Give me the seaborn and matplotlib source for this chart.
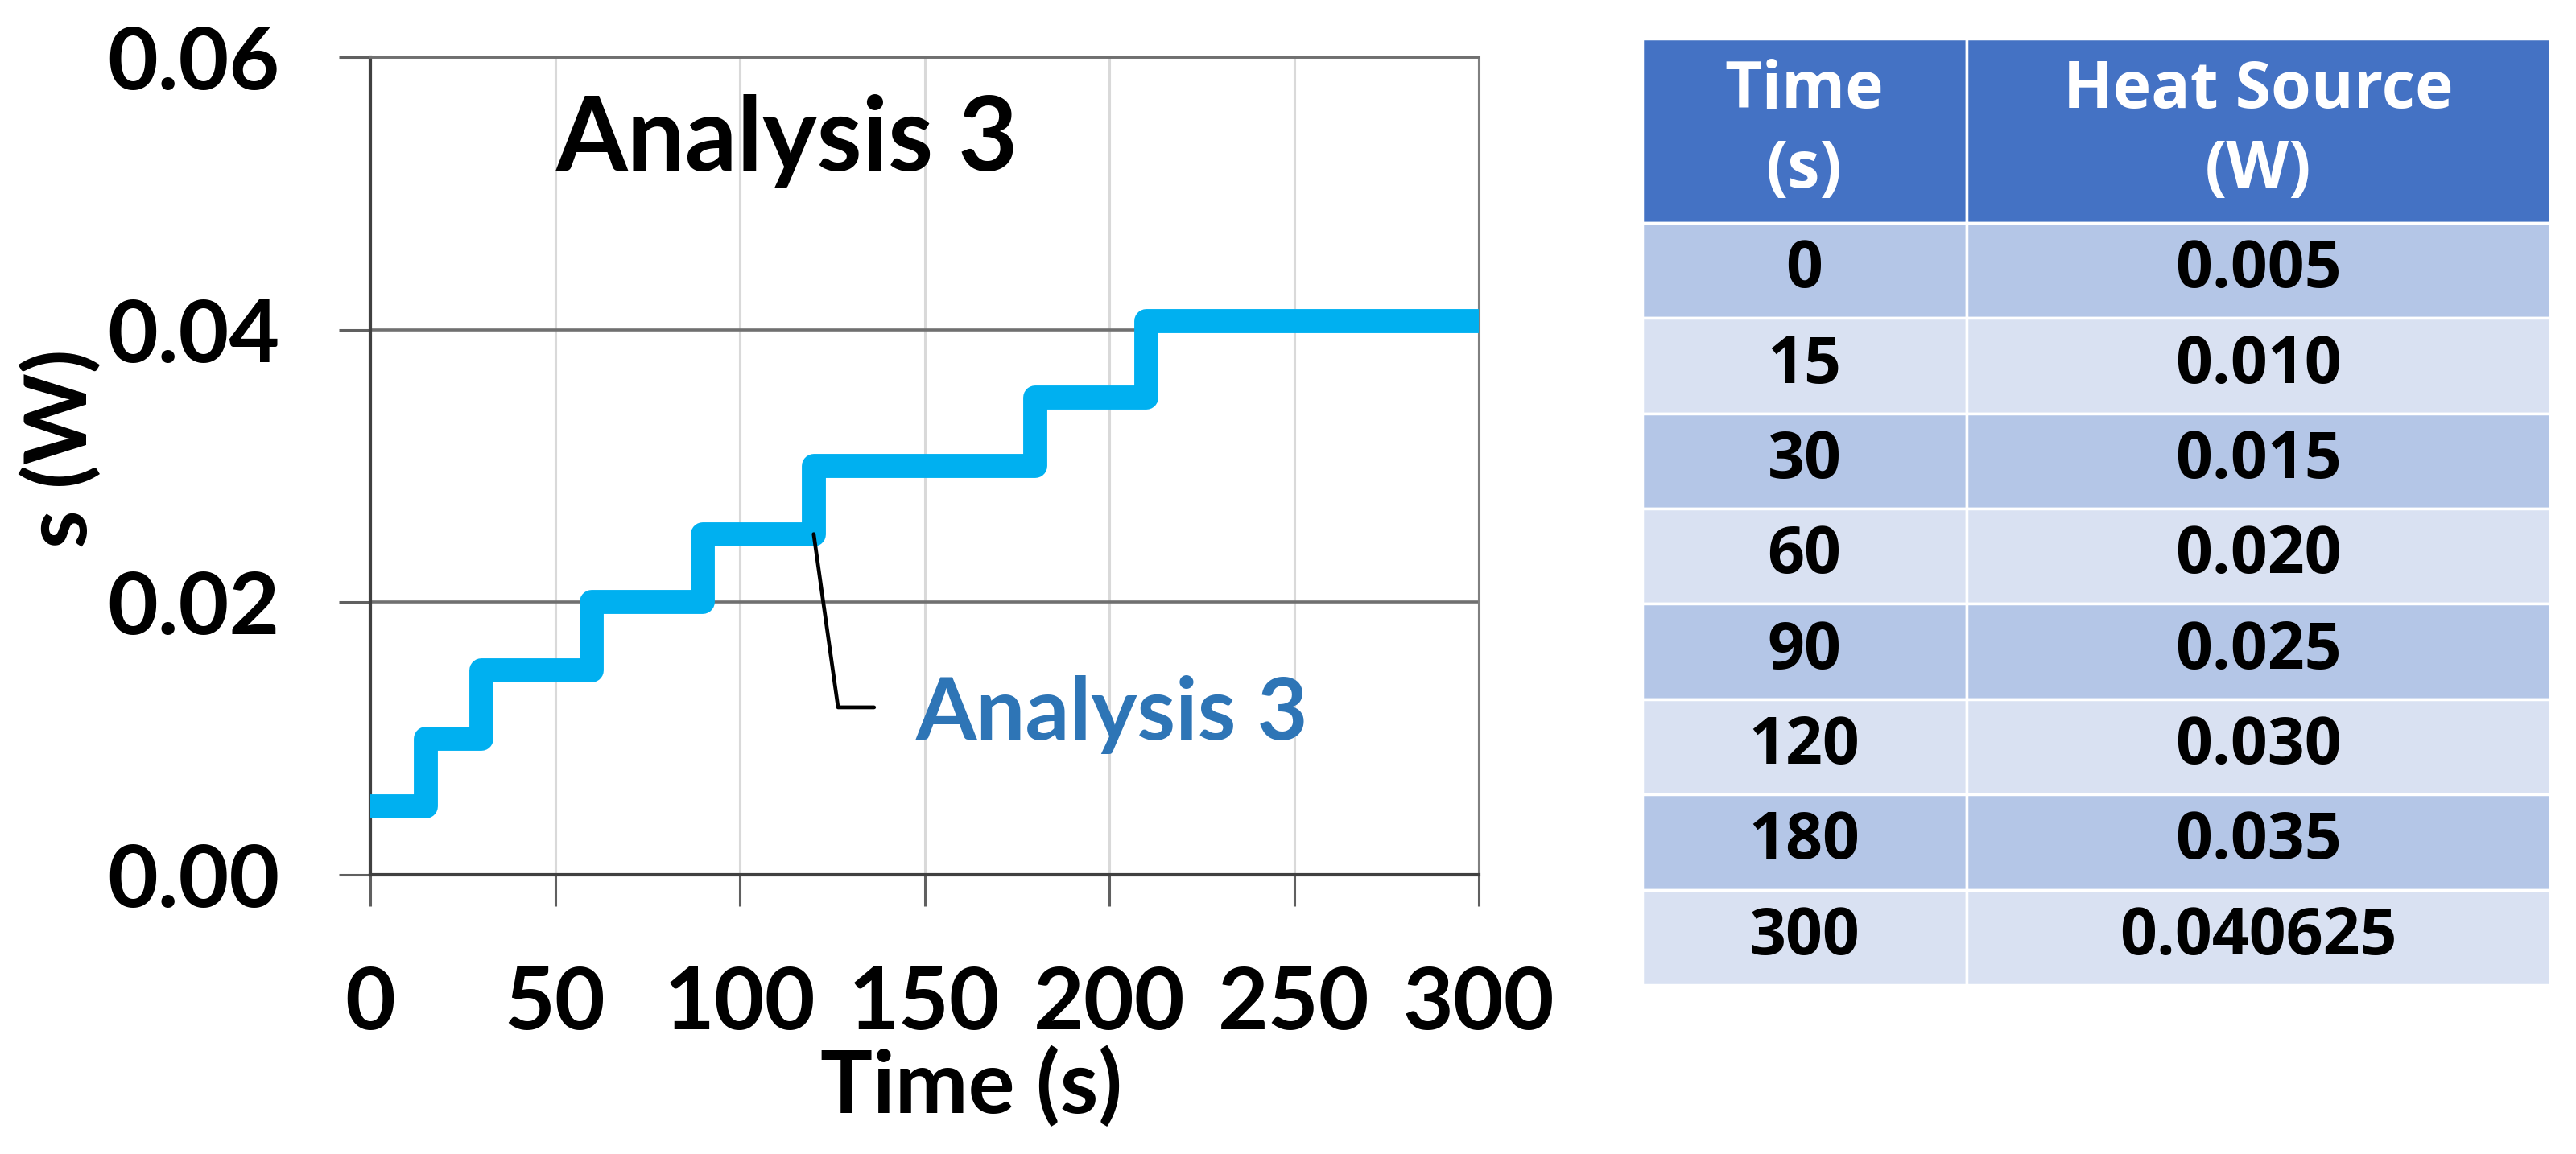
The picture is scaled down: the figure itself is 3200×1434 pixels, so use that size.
import numpy as np
import pandas as pd
import seaborn as sns
import matplotlib.pyplot as plt

# Step profile drawn in the chart
step_t = [0, 15, 30, 60, 90, 120, 180, 210, 300]
step_w = [0.005, 0.010, 0.015, 0.020, 0.025, 0.030, 0.035, 0.040625, 0.040625]

# Table on the right
table_time = ["0", "15", "30", "60", "90", "120", "180", "300"]
table_heat = ["0.005", "0.010", "0.015", "0.020", "0.025", "0.030", "0.035", "0.040625"]
table_cols = ["Time\n(s)", "Heat Source\n(W)"]

x_ticks = [0, 50, 100, 150, 200, 250, 300]
y_ticks = [0.00, 0.02, 0.04, 0.06]

sns.set_style("white")
plt.rcParams['font.family'] = ['Lato', 'DejaVu Sans']
plt.rcParams['text.color'] = 'black'
plt.rcParams['axes.labelcolor'] = 'black'

fig = plt.figure(figsize=(32, 14.34), dpi=100)
ax = fig.add_axes([460 / 3200, 347 / 1434, 1377 / 3200, 1016 / 1434])

df = pd.DataFrame({"Time": step_t, "Heat": step_w})
sns.lineplot(data=df, x="Time", y="Heat", drawstyle="steps-post", estimator=None,
             color="#00B0F0", linewidth=21.5, ax=ax, zorder=3,
             solid_joinstyle="round", solid_capstyle="butt")

ax.set_xlim(0, 300)
ax.set_ylim(0, 0.06)
ax.set_xticks(x_ticks)
ax.set_yticks(y_ticks)
ax.set_yticklabels([f"{v:.2f}" for v in y_ticks])

# gridlines: dark horizontal, light vertical
ax.grid(axis="y", color="#707070", linewidth=2.6, zorder=1)
ax.grid(axis="x", color="#d9d9d9", linewidth=2.2, zorder=1)
ax.set_axisbelow(True)

for side in ["left", "bottom"]:
    ax.spines[side].set_color("#404040")
    ax.spines[side].set_linewidth(3)
ax.spines["right"].set_color("#808080")
ax.spines["right"].set_linewidth(2.2)
ax.spines["top"].set_color("#707070")
ax.spines["top"].set_linewidth(2.6)

ax.tick_params(axis="both", direction="out", length=28, width=2.2, color="#606060",
               labelsize=78, pad=53, labelcolor="black")
ax.tick_params(axis="y", left=True)
ax.tick_params(axis="x", bottom=True)
for lab in ax.get_xticklabels() + ax.get_yticklabels():
    lab.set_fontweight("bold")

ax.set_xlabel("Time (s)", fontsize=78, fontweight="bold", va="top", color="black")
ax.xaxis.set_label_coords(0.5425, -0.2096)
ax.set_ylabel("s (W)", fontsize=78, fontweight="bold", va="center", ha="center", color="black")
ax.yaxis.set_label_coords(-0.279, 0.5217)

ax.text(0.1678, 0.861, "Analysis 3", transform=ax.transAxes, fontsize=92,
        fontweight="bold", va="baseline", ha="left", color="black")

# leader label for the series
anchor = (step_t[5], step_w[4])
ax.annotate("", xy=anchor, xytext=(54, -155), textcoords="offset points",
            arrowprops=dict(arrowstyle="-", color="black", lw=3.4, shrinkA=0, shrinkB=0,
                            connectionstyle="angle,angleA=0,angleB=98,rad=0"))
ax.annotate("Analysis 3", xy=anchor, xytext=(91, -184), textcoords="offset points",
            fontsize=78, fontweight="bold", color="#2E75B6", va="baseline", ha="left")

# table
ax_t = fig.add_axes([2040 / 3200, 210 / 1434, 1128 / 3200, 1176 / 1434])
ax_t.axis("off")
cell_text = [[t, h] for t, h in zip(table_time, table_heat)]
row_colors = [["#B4C6E7"] * 2 if i % 2 == 0 else ["#D9E1F2"] * 2 for i in range(len(cell_text))]
tbl = ax_t.table(cellText=cell_text, colLabels=table_cols, cellColours=row_colors,
                 colColours=["#4472C4"] * 2, cellLoc="center",
                 colWidths=[403 / 1128, 725 / 1128], bbox=[0, 0, 1, 1])
tbl.auto_set_font_size(False)
row_h = 1.0 / 9
for (r, c), cell in tbl.get_celld().items():
    cell.set_edgecolor("white")
    cell.set_linewidth(2.5)
    txt = cell.get_text()
    txt.set_fontsize(58)
    txt.set_fontweight("bold")
    txt.set_family(["Open Sans", "DejaVu Sans"])
    if r == 0:
        cell.set_height(row_h * 1.934)
        txt.set_color("white")
        txt.set_linespacing(1.3)
    else:
        cell.set_height(row_h)
        txt.set_color("black")

fig.savefig("out.png", dpi=100)
